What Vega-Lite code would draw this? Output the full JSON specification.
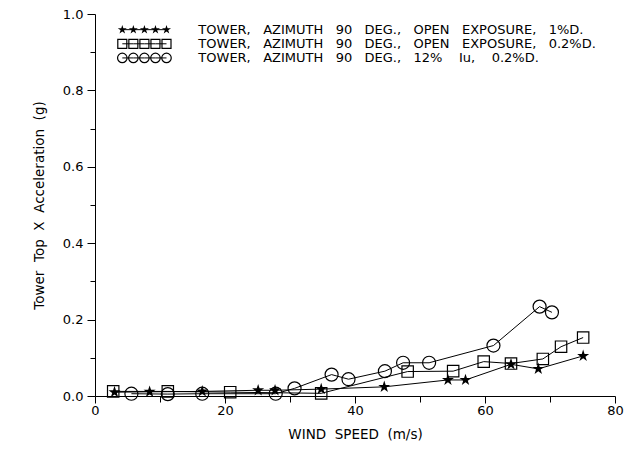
{
  "$schema": "https://vega.github.io/schema/vega-lite/v6.json",
  "width": 520,
  "height": 382,
  "autosize": {"type": "none"},
  "padding": {"left": 95, "top": 14, "right": 18, "bottom": 53},
  "background": "white",
  "config": {
    "view": {"stroke": null},
    "font": "DejaVu Sans",
    "axis": {
      "domainColor": "black",
      "domainWidth": 1,
      "tickColor": "black",
      "tickWidth": 1,
      "labelColor": "black",
      "titleColor": "black",
      "labelFont": "DejaVu Sans",
      "titleFont": "DejaVu Sans",
      "labelFontSize": 13,
      "titleFontSize": 13.5,
      "titleFontWeight": "normal",
      "grid": false,
      "labelFlush": false,
      "labelOverlap": false,
      "labelBound": false
    }
  },
  "datasets": {
    "obs": [
      {"s": "a", "x": 3.0, "y": 0.010},
      {"s": "a", "x": 8.4, "y": 0.011},
      {"s": "a", "x": 16.5, "y": 0.012},
      {"s": "a", "x": 25.1, "y": 0.015},
      {"s": "a", "x": 27.7, "y": 0.015},
      {"s": "a", "x": 34.8, "y": 0.018},
      {"s": "a", "x": 44.5, "y": 0.024},
      {"s": "a", "x": 54.3, "y": 0.042},
      {"s": "a", "x": 57.0, "y": 0.042},
      {"s": "a", "x": 64.0, "y": 0.083},
      {"s": "a", "x": 68.2, "y": 0.071},
      {"s": "a", "x": 75.1, "y": 0.105},
      {"s": "b", "x": 2.8, "y": 0.012},
      {"s": "b", "x": 11.2, "y": 0.012},
      {"s": "b", "x": 20.8, "y": 0.010},
      {"s": "b", "x": 34.8, "y": 0.007},
      {"s": "b", "x": 48.1, "y": 0.064},
      {"s": "b", "x": 55.1, "y": 0.065},
      {"s": "b", "x": 59.8, "y": 0.090},
      {"s": "b", "x": 64.0, "y": 0.085},
      {"s": "b", "x": 68.9, "y": 0.097},
      {"s": "b", "x": 71.7, "y": 0.129},
      {"s": "b", "x": 75.1, "y": 0.153},
      {"s": "c", "x": 5.6, "y": 0.006},
      {"s": "c", "x": 11.2, "y": 0.005},
      {"s": "c", "x": 16.5, "y": 0.006},
      {"s": "c", "x": 27.8, "y": 0.006},
      {"s": "c", "x": 30.7, "y": 0.020},
      {"s": "c", "x": 36.4, "y": 0.056},
      {"s": "c", "x": 39.0, "y": 0.044},
      {"s": "c", "x": 44.6, "y": 0.065},
      {"s": "c", "x": 47.4, "y": 0.087},
      {"s": "c", "x": 51.4, "y": 0.087},
      {"s": "c", "x": 61.3, "y": 0.132},
      {"s": "c", "x": 68.4, "y": 0.234},
      {"s": "c", "x": 70.3, "y": 0.219}
    ],
    "key": [
      {"s": "a", "x": 4.2, "y": 0.959},
      {"s": "a", "x": 5.9, "y": 0.959},
      {"s": "a", "x": 7.6, "y": 0.959},
      {"s": "a", "x": 9.3, "y": 0.959},
      {"s": "a", "x": 11.0, "y": 0.959},
      {"s": "b", "x": 4.2, "y": 0.922},
      {"s": "b", "x": 5.9, "y": 0.922},
      {"s": "b", "x": 7.6, "y": 0.922},
      {"s": "b", "x": 9.3, "y": 0.922},
      {"s": "b", "x": 11.0, "y": 0.922},
      {"s": "c", "x": 4.2, "y": 0.885},
      {"s": "c", "x": 5.9, "y": 0.885},
      {"s": "c", "x": 7.6, "y": 0.885},
      {"s": "c", "x": 9.3, "y": 0.885},
      {"s": "c", "x": 11.0, "y": 0.885}
    ],
    "keyText": [
      {"x": 15.9, "y": 0.959, "t": "TOWER,\u00a0\u00a0 AZIMUTH\u00a0\u00a0 90\u00a0\u00a0 DEG.,\u00a0\u00a0 OPEN\u00a0\u00a0 EXPOSURE,\u00a0\u00a0 1%D."},
      {"x": 15.9, "y": 0.922, "t": "TOWER,\u00a0\u00a0 AZIMUTH\u00a0\u00a0 90\u00a0\u00a0 DEG.,\u00a0\u00a0 OPEN\u00a0\u00a0 EXPOSURE,\u00a0\u00a0 0.2%D."},
      {"x": 15.9, "y": 0.885, "t": "TOWER,\u00a0\u00a0 AZIMUTH\u00a0\u00a0 90\u00a0\u00a0 DEG.,\u00a0\u00a0 12%\u00a0\u00a0\u00a0 Iu,\u00a0\u00a0\u00a0 0.2%D."}
    ]
  },
  "encoding": {
    "x": {
      "field": "x",
      "type": "quantitative",
      "scale": {"domain": [0, 80], "nice": false, "zero": false},
      "axis": {
        "values": [0, 10, 20, 30, 40, 50, 60, 70, 80],
        "labelExpr": "datum.value % 20 === 0 ? datum.label : ''",
        "tickSize": {"condition": {"test": "datum.value % 20 === 0", "value": 7}, "value": 6},
        "labelPadding": 1,
        "title": "WIND\u00a0 SPEED\u00a0 (m/s)",
        "titlePadding": 10
      }
    },
    "y": {
      "field": "y",
      "type": "quantitative",
      "scale": {"domain": [0, 1], "nice": false, "zero": false},
      "axis": {
        "values": [0, 0.1, 0.2, 0.3, 0.4, 0.5, 0.6, 0.7, 0.8, 0.9, 1.0],
        "format": ".1f",
        "labelExpr": "round(datum.value * 10) % 2 === 0 ? datum.label : ''",
        "tickSize": {"condition": {"test": "round(datum.value * 10) % 2 === 0", "value": 8}, "value": 5},
        "labelPadding": 4,
        "title": "Tower\u00a0 Top\u00a0 X\u00a0 Acceleration\u00a0 (g)",
        "titlePadding": 16
      }
    }
  },
  "layer": [
    {
      "data": {"name": "obs"},
      "mark": {"type": "line", "color": "black", "strokeWidth": 1},
      "encoding": {"detail": {"field": "s"}}
    },
    {
      "data": {"name": "obs"},
      "transform": [{"filter": "datum.s === 'a'"}],
      "mark": {
        "type": "point",
        "shape": "M0,-1L0.2245,-0.309L0.9511,-0.309L0.3633,0.118L0.5878,0.809L0,0.382L-0.5878,0.809L-0.3633,0.118L-0.9511,-0.309L-0.2245,-0.309Z",
        "filled": true,
        "color": "black",
        "opacity": 1,
        "size": 160
      }
    },
    {
      "data": {"name": "obs"},
      "transform": [{"filter": "datum.s === 'b'"}],
      "mark": {"type": "point", "shape": "square", "filled": false, "color": "black", "opacity": 1, "strokeWidth": 1.2, "size": 130}
    },
    {
      "data": {"name": "obs"},
      "transform": [{"filter": "datum.s === 'c'"}],
      "mark": {"type": "point", "shape": "circle", "filled": false, "color": "black", "opacity": 1, "strokeWidth": 1.2, "size": 170}
    },
    {
      "data": {"name": "key"},
      "mark": {"type": "line", "color": "black", "strokeWidth": 1},
      "encoding": {"detail": {"field": "s"}}
    },
    {
      "data": {"name": "key"},
      "transform": [{"filter": "datum.s === 'a'"}],
      "mark": {
        "type": "point",
        "shape": "M0,-1L0.2245,-0.309L0.9511,-0.309L0.3633,0.118L0.5878,0.809L0,0.382L-0.5878,0.809L-0.3633,0.118L-0.9511,-0.309L-0.2245,-0.309Z",
        "filled": true,
        "color": "black",
        "opacity": 1,
        "size": 90
      }
    },
    {
      "data": {"name": "key"},
      "transform": [{"filter": "datum.s === 'b'"}],
      "mark": {"type": "point", "shape": "square", "filled": false, "color": "black", "opacity": 1, "strokeWidth": 1.2, "size": 81}
    },
    {
      "data": {"name": "key"},
      "transform": [{"filter": "datum.s === 'c'"}],
      "mark": {"type": "point", "shape": "circle", "filled": false, "color": "black", "opacity": 1, "strokeWidth": 1.2, "size": 90}
    },
    {
      "data": {"name": "keyText"},
      "mark": {"type": "text", "align": "left", "baseline": "middle", "font": "DejaVu Sans", "fontSize": 13, "color": "black"},
      "encoding": {"text": {"field": "t"}}
    }
  ]
}
